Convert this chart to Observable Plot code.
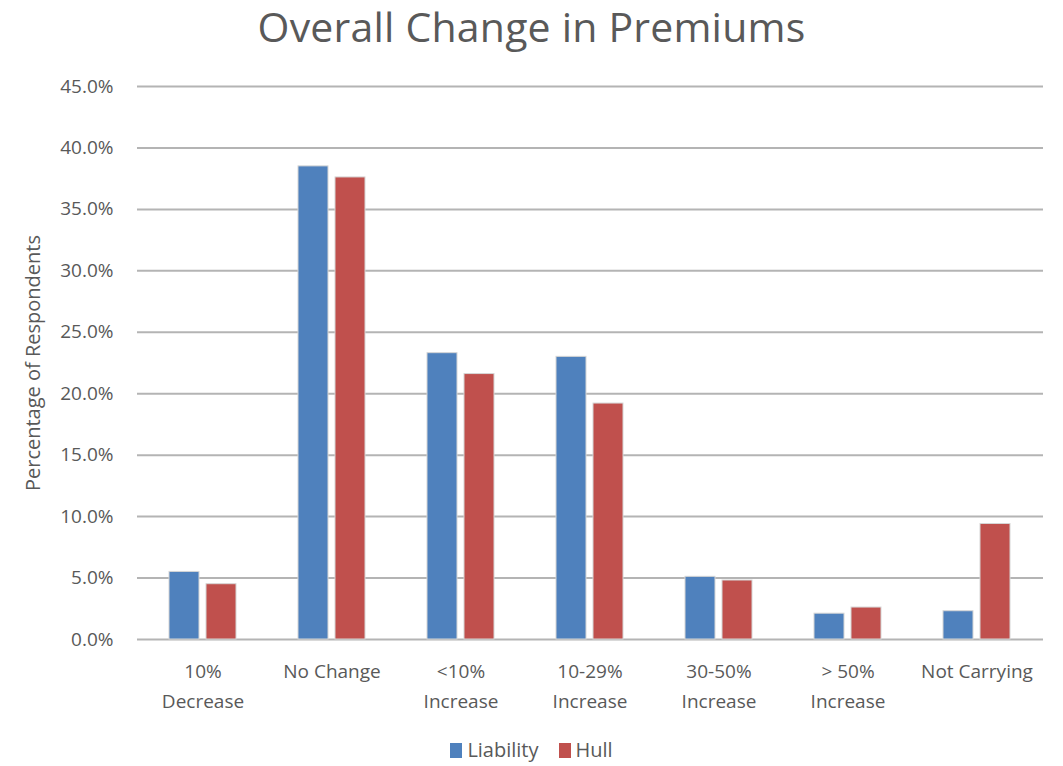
<!DOCTYPE html>
<html>
<head>
<meta charset="utf-8">
<script src="https://cdn.jsdelivr.net/npm/d3@7"></script>
<script src="https://cdn.jsdelivr.net/npm/@observablehq/plot@0.6"></script>
<style>
  body { margin: 0; background: #fff; font-family: "Open Sans", "Liberation Sans", sans-serif; color: #595959; }
  #title { height: 62px; line-height: 52px; text-align: center; font-size: 41px; color: #595959; letter-spacing: 0.2px; }
  #legend { display: flex; justify-content: center; align-items: center; gap: 20px; font-size: 20px; margin-top: 14px; }
  #legend span.sw { display: inline-block; width: 12px; height: 15px; margin-right: 5px; vertical-align: -1px; }
</style>
</head>
<body>
<div id="title">Overall Change in Premiums</div>
<div id="chart"></div>
<div id="legend"></div>
<script>
// Survey categories and the share of respondents in each, per coverage type
const categories = ["10% Decrease", "No Change", "<10% Increase", "10-29% Increase", "30-50% Increase", "> 50% Increase", "Not Carrying"];
const categoryLabels = ["10%\nDecrease", "No Change", "<10%\nIncrease", "10-29%\nIncrease", "30-50%\nIncrease", "> 50%\nIncrease", "Not Carrying"];
const seriesNames = ["Liability", "Hull"];
const liability = [0.055, 0.385, 0.233, 0.230, 0.051, 0.021, 0.023];
const hull = [0.045, 0.376, 0.216, 0.192, 0.048, 0.026, 0.094];
const seriesColors = ["#4F81BD", "#C0504D"];
const yTicks = [0, 0.05, 0.10, 0.15, 0.20, 0.25, 0.30, 0.35, 0.40, 0.45];

const liabilityRows = categories.map((c, i) => ({category: c, value: liability[i]}));
const hullRows = categories.map((c, i) => ({category: c, value: hull[i]}));
const labelRows = categories.map((c, i) => ({category: c, label: categoryLabels[i]}));

const font = "'Open Sans', 'Liberation Sans', sans-serif";

const chart = Plot.plot({
  width: 1063,
  height: 660,
  marginTop: 24,
  marginBottom: 83,
  marginLeft: 137,
  marginRight: 20,
  style: {fontFamily: font, color: "#595959", background: "#fff"},
  x: {domain: categories, paddingInner: 0.48, paddingOuter: 0.24, axis: null},
  y: {domain: [0, 0.45], ticks: yTicks},
  marks: [
    Plot.gridY(yTicks, {stroke: "#b4b4b4", strokeOpacity: 1, strokeWidth: 2}),
    // each category band holds the two bars side by side with a small gap
    Plot.barY(liabilityRows, {x: "category", y: "value", fill: seriesColors[0], stroke: "#d6d6d6", strokeWidth: 1, insetRight: 37}),
    Plot.barY(hullRows, {x: "category", y: "value", fill: seriesColors[1], stroke: "#d6d6d6", strokeWidth: 1, insetLeft: 37}),
    Plot.axisY(yTicks, {
      tickFormat: d3.format(".1%"), tickSize: 0, tickPadding: 24, fontSize: 19, label: null
    }),
    Plot.text(["Percentage of Respondents"], {
      frameAnchor: "left", textAnchor: "middle", rotate: -90, dx: -104, fontSize: 20, fill: "#595959"
    }),
    Plot.text(labelRows, {
      x: "category", text: "label", frameAnchor: "bottom", lineAnchor: "top",
      dy: 18, lineHeight: 1.55, fontSize: 19, fill: "#595959"
    })
  ]
});
document.getElementById("chart").appendChild(chart);

const legend = document.getElementById("legend");
seriesNames.forEach((name, i) => {
  const item = document.createElement("span");
  const sw = document.createElement("span");
  sw.className = "sw";
  sw.style.background = seriesColors[i];
  item.appendChild(sw);
  item.appendChild(document.createTextNode(name));
  legend.appendChild(item);
});
</script>
</body>
</html>
